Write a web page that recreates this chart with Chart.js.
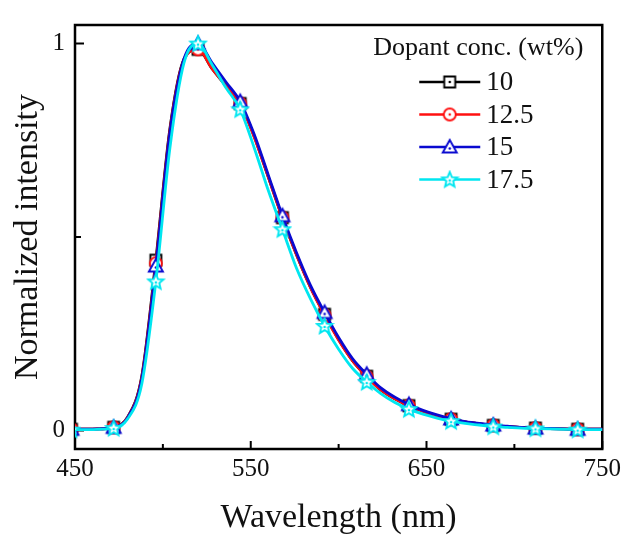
<!DOCTYPE html>
<html>
<head>
<meta charset="utf-8">
<script src="https://cdn.jsdelivr.net/npm/chart.js@4.4.1/dist/chart.umd.min.js"></script>
<style>
  html, body { margin: 0; padding: 0; background: #fff; }
  canvas { display: block; }
</style>
</head>
<body>
<canvas id="c" width="626" height="535"></canvas>
<script>
// ---- Data ----
const wavelengths = [448,456,464,472,480,488,496,504,512,520,528,536,544,552,560,568,576,584,592,600,608,616,624,632,640,648,656,664,672,680,688,696,704,712,720,728,736,744,752];

const conc10 = [0.003,0.003,0.004,0.008,0.035,0.14,0.44,0.78,0.96,0.985,0.935,0.89,0.845,0.76,0.655,0.55,0.455,0.37,0.30,0.235,0.18,0.14,0.105,0.082,0.064,0.05,0.038,0.029,0.022,0.017,0.013,0.01,0.008,0.006,0.005,0.004,0.003,0.003,0.003];
const conc12_5 = [0.003,0.003,0.004,0.008,0.034,0.137,0.432,0.775,0.958,0.985,0.935,0.89,0.845,0.758,0.655,0.55,0.455,0.37,0.298,0.234,0.18,0.139,0.105,0.082,0.064,0.05,0.038,0.029,0.022,0.017,0.013,0.01,0.008,0.006,0.005,0.004,0.003,0.003,0.003];
const conc15 = [0.003,0.003,0.004,0.008,0.033,0.133,0.425,0.77,0.96,1.0,0.95,0.9,0.85,0.765,0.66,0.555,0.46,0.375,0.305,0.24,0.185,0.145,0.11,0.086,0.067,0.052,0.04,0.03,0.023,0.018,0.014,0.011,0.008,0.006,0.005,0.004,0.003,0.003,0.003];
const conc17_5 = [0.002,0.002,0.003,0.006,0.03,0.12,0.385,0.73,0.95,1.0,0.945,0.885,0.83,0.73,0.62,0.52,0.42,0.34,0.27,0.21,0.16,0.125,0.095,0.072,0.055,0.042,0.032,0.024,0.018,0.014,0.01,0.008,0.006,0.005,0.004,0.003,0.002,0.002,0.002];

const seriesLabels = ['10', '12.5', '15', '17.5'];
const seriesValues = [conc10, conc12_5, conc15, conc17_5];
const seriesColors = ['#000000', '#ff1010', '#0a0ad0', '#00e6f0'];
const seriesShapes = ['square', 'circle', 'triangle', 'star'];

const xTicksLabeled = [450, 550, 650, 750];
const xTicksMinor = [500, 600, 700];
const yTicksLabeled = [0, 1];
const yTicksMinor = [0.5];

const legendTitle = 'Dopant conc. (wt%)';
const xTitle = 'Wavelength (nm)';
const yTitle = 'Normalized intensity';

const FONT = "'Liberation Serif', 'Times New Roman', serif";

// ---- marker images ----
function makeMarker(shape, color) {
  const s = 20;
  const c = document.createElement('canvas');
  c.width = s; c.height = s;
  const g = c.getContext('2d');
  const m = s / 2;
  g.strokeStyle = color;
  g.fillStyle = '#ffffff';
  g.lineWidth = 1.9;
  g.lineJoin = 'miter';
  g.beginPath();
  let dotY = m;
  if (shape === 'square') {
    g.rect(m - 5.5, m - 5.5, 11, 11);
  } else if (shape === 'circle') {
    g.arc(m, m, 6, 0, Math.PI * 2);
  } else if (shape === 'triangle') {
    g.moveTo(m, m - 7);
    g.lineTo(m + 7, m + 5.5);
    g.lineTo(m - 7, m + 5.5);
    g.closePath();
    dotY = m + 1.5;
  } else {
    for (let i = 0; i < 10; i++) {
      const r = i % 2 === 0 ? 8 : 3.6;
      const a = -Math.PI / 2 + i * Math.PI / 5;
      const px = m + r * Math.cos(a), py = m + 0.5 + r * Math.sin(a);
      if (i === 0) g.moveTo(px, py); else g.lineTo(px, py);
    }
    g.closePath();
    dotY = m + 1;
  }
  g.fill();
  g.stroke();
  g.fillStyle = color;
  g.beginPath();
  g.arc(m, dotY, 1.3, 0, Math.PI * 2);
  g.fill();
  return c;
}
const markers = seriesShapes.map((sh, i) => makeMarker(sh, seriesColors[i]));

// ---- plugins ----
const framePlugin = {
  id: 'frame',
  beforeDatasetsDraw(chart) {
    const { ctx, chartArea: a, scales: { x, y } } = chart;
    ctx.save();
    ctx.strokeStyle = '#000';
    ctx.lineWidth = 2.5;
    ctx.strokeRect(a.left, a.top, a.right - a.left, a.bottom - a.top);
    ctx.lineWidth = 2;
    ctx.beginPath();
    xTicksLabeled.forEach(v => { const px = x.getPixelForValue(v); ctx.moveTo(px, a.bottom); ctx.lineTo(px, a.bottom - 8); });
    xTicksMinor.forEach(v => { const px = x.getPixelForValue(v); ctx.moveTo(px, a.bottom); ctx.lineTo(px, a.bottom - 5); });
    yTicksLabeled.forEach(v => { const py = y.getPixelForValue(v); ctx.moveTo(a.left, py); ctx.lineTo(a.left + 9, py); });
    yTicksMinor.forEach(v => { const py = y.getPixelForValue(v); ctx.moveTo(a.left, py); ctx.lineTo(a.left + 6, py); });
    ctx.stroke();
    ctx.restore();
  }
};

const legendPlugin = {
  id: 'customLegend',
  afterDraw(chart) {
    const { ctx, chartArea: a } = chart;
    ctx.save();
    ctx.fillStyle = '#111';
    ctx.font = '26px ' + FONT;
    ctx.textAlign = 'center';
    ctx.textBaseline = 'middle';
    ctx.fillText(legendTitle, a.right - 124, a.top + 23);
    const x1 = a.right - 183, x2 = a.right - 122, xm = (x1 + x2) / 2;
    ctx.font = '27px ' + FONT;
    ctx.textAlign = 'left';
    chart.data.datasets.forEach((ds, i) => {
      const yy = a.top + 57 + i * 32.5;
      ctx.strokeStyle = ds.borderColor;
      ctx.lineWidth = 2.6;
      ctx.beginPath();
      ctx.moveTo(x1, yy);
      ctx.lineTo(x2, yy);
      ctx.stroke();
      const img = markers[i];
      ctx.drawImage(img, xm - img.width / 2, yy - img.height / 2);
      ctx.fillStyle = '#111';
      ctx.fillText(ds.label, x2 + 6, yy + 1);
    });
    ctx.restore();
  }
};

const datasets = seriesLabels.map((lab, i) => ({
  label: lab,
  data: wavelengths.map((w, k) => ({ x: w, y: seriesValues[i][k] })),
  borderColor: seriesColors[i],
  backgroundColor: '#ffffff',
  borderWidth: 2.8,
  cubicInterpolationMode: 'monotone',
  pointStyle: markers[i],
  pointRadius: (c) => (c.dataIndex % 3 === 0 ? 7 : 0),
  pointHoverRadius: 0,
  order: seriesLabels.length - i
}));

new Chart(document.getElementById('c'), {
  type: 'line',
  data: { datasets },
  plugins: [framePlugin, legendPlugin],
  options: {
    responsive: false,
    animation: false,
    layout: { padding: { left: 0, right: 22, top: 18, bottom: 0 } },
    plugins: { legend: { display: false }, tooltip: { enabled: false } },
    scales: {
      x: {
        type: 'linear',
        min: 450,
        max: 750,
        afterFit: (s) => { s.height = 86; },
        afterBuildTicks: (s) => { s.ticks = xTicksLabeled.concat(xTicksMinor).sort((p, q) => p - q).map(v => ({ value: v })); },
        ticks: {
          autoSkip: false,
          maxRotation: 0,
          padding: 5,
          color: '#111',
          font: { family: FONT, size: 25 },
          callback: (v) => (xTicksLabeled.includes(v) ? String(v) : '')
        },
        grid: { display: false, drawTicks: false },
        border: { display: false },
        title: {
          display: true,
          text: xTitle,
          color: '#111',
          font: { family: FONT, size: 34, lineHeight: 1.0 },
          padding: { top: 0, bottom: 0 }
        }
      },
      y: {
        type: 'linear',
        min: -0.048,
        max: 1.048,
        afterFit: (s) => { s.width = 75; },
        afterBuildTicks: (s) => { s.ticks = yTicksLabeled.concat(yTicksMinor).sort((p, q) => p - q).map(v => ({ value: v })); },
        ticks: {
          padding: 10,
          color: '#111',
          font: { family: FONT, size: 25 },
          callback: (v) => (yTicksLabeled.includes(v) ? String(v) : '')
        },
        grid: { display: false, drawTicks: false },
        border: { display: false },
        title: {
          display: true,
          text: yTitle,
          color: '#111',
          font: { family: FONT, size: 34, lineHeight: 1.1 },
          padding: { top: 9, bottom: 0 }
        }
      }
    }
  }
});
</script>
</body>
</html>
